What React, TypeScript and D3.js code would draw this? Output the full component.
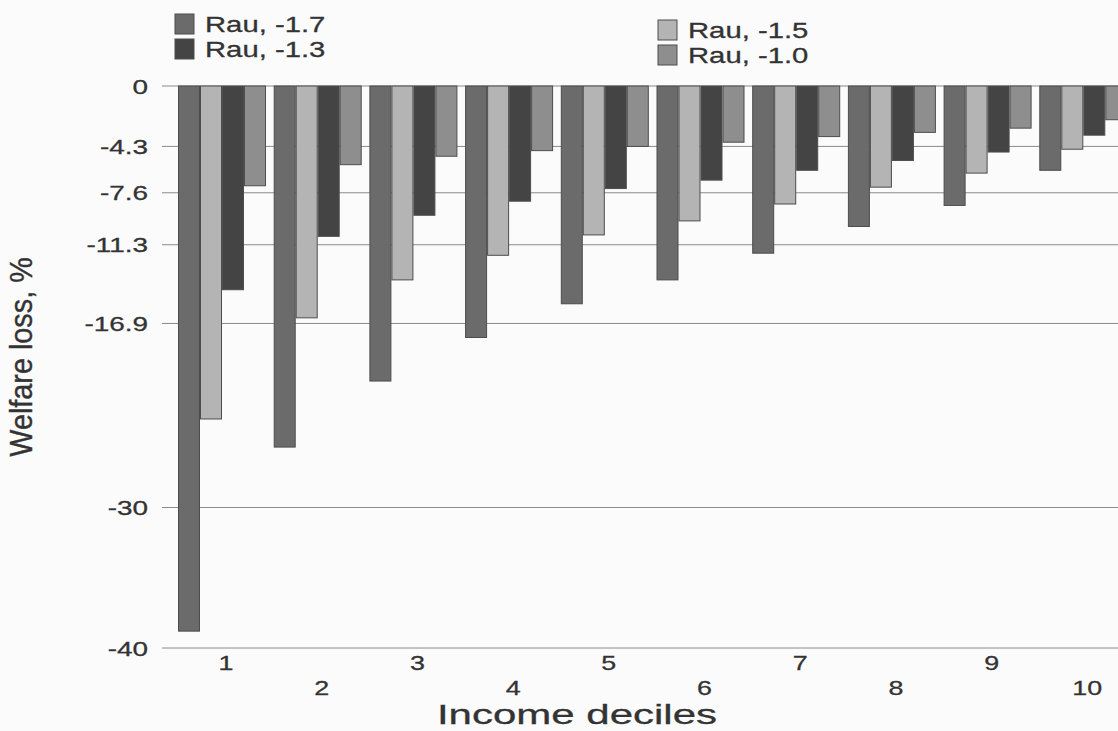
import React from "react";
import * as d3 from "d3";

const deciles = ["1", "2", "3", "4", "5", "6", "7", "8", "9", "10"];
const seriesNames = ["Rau, -1.7", "Rau, -1.5", "Rau, -1.3", "Rau, -1.0"];
const rau17 = [-38.8, -25.7, -21.0, -17.9, -15.5, -13.8, -11.9, -10.0, -8.5, -6.0];
const rau15 = [-23.7, -16.5, -13.8, -12.05, -10.6, -9.6, -8.4, -7.2, -6.2, -4.5];
const rau13 = [-14.5, -10.7, -9.2, -8.2, -7.3, -6.7, -6.0, -5.3, -4.7, -3.5];
const rau10 = [-7.1, -5.6, -5.0, -4.6, -4.3, -4.0, -3.6, -3.3, -3.0, -2.4];
const yTicks = [0, -4.3, -7.6, -11.3, -16.9, -30, -40];
const yTickLabels = ["0", "-4.3", "-7.6", "-11.3", "-16.9", "-30", "-40"];

const seriesValues = [rau17, rau15, rau13, rau10];
const colors = ["#6b6b6b", "#b4b4b4", "#444444", "#8e8e8e"];

const W = 1118;
const H = 731;
const FONT = "'Liberation Sans', Arial, sans-serif";
const TEXT = "#333333";

export default function App() {
  const y = d3.scaleLinear().domain([0, -40]).range([86, 648]);
  const step = 95.7;
  const gap = 7.7;
  const x0 = d3
    .scaleBand<string>()
    .domain(deciles)
    .range([178, 178 + step * deciles.length - gap])
    .paddingInner(gap / step)
    .paddingOuter(0);
  const x1 = d3
    .scaleBand<string>()
    .domain(seriesNames)
    .range([0, x0.bandwidth()])
    .padding(0);

  const gridX0 = 162;
  const legendCols = [
    { x: 175, tx: 205, items: [0, 2], y0: 14 },
    { x: 658, tx: 688, items: [1, 3], y0: 20 },
  ];

  return (
    <svg
      width={W}
      height={H}
      style={{ position: "absolute", left: 0, top: 0, fontFamily: FONT }}
    >
      <rect x={0} y={0} width={W} height={H} fill="#fbfbfb" />
      {yTicks.map((t, i) => (
        <line
          key={"g" + i}
          x1={gridX0}
          x2={W}
          y1={y(t)}
          y2={y(t)}
          stroke="#8a8a8a"
          strokeWidth={1}
        />
      ))}
      {yTicks.map((t, i) => (
        <text
          key={"yl" + i}
          transform={`translate(148,${y(t) + 7.5}) scale(1.33,1)`}
          textAnchor="end"
          fontSize={21}
          fill={TEXT}
          stroke={TEXT}
          strokeWidth={0.3}
        >
          {yTickLabels[i]}
        </text>
      ))}
      {deciles.map((d, gi) => (
        <g key={"grp" + d} transform={`translate(${x0(d)},0)`}>
          {seriesNames.map((s, si) => {
            const v = seriesValues[si][gi];
            return (
              <rect
                key={s}
                x={x1(s)! + 0.5}
                y={y(0)}
                width={x1.bandwidth() - 1}
                height={y(v) - y(0)}
                fill={colors[si]}
                stroke="#4d4d4d"
                strokeWidth={1}
              />
            );
          })}
        </g>
      ))}
      {deciles.map((d, i) => (
        <text
          key={"xl" + d}
          transform={`translate(${x0(d)! + x0.bandwidth() / 2 + 4},${i % 2 === 0 ? 670 : 695}) scale(1.28,1)`}
          textAnchor="middle"
          fontSize={21}
          fill={TEXT}
          stroke={TEXT}
          strokeWidth={0.3}
        >
          {d}
        </text>
      ))}
      <text
        transform="translate(577,724) scale(1.5,1)"
        textAnchor="middle"
        fontSize={28}
        fill={TEXT}
        stroke={TEXT}
        strokeWidth={0.3}
      >
        Income deciles
      </text>
      <text
        transform="translate(32,357) rotate(-90) scale(1.2,1.28)"
        textAnchor="middle"
        fontSize={24}
        fill={TEXT}
        stroke={TEXT}
        strokeWidth={0.3}
      >
        Welfare loss, %
      </text>
      {legendCols.map((col, ci) =>
        col.items.map((si, k) => (
          <g key={"lg" + ci + "-" + k}>
            <rect
              x={col.x}
              y={col.y0 + k * 25}
              width={19}
              height={20}
              fill={colors[si]}
              stroke="#4d4d4d"
              strokeWidth={1}
            />
            <text
              transform={`translate(${col.tx},${col.y0 + k * 25 + 18}) scale(1.33,1)`}
              fontSize={22}
              fill={TEXT}
              stroke={TEXT}
              strokeWidth={0.3}
            >
              {seriesNames[si]}
            </text>
          </g>
        ))
      )}
    </svg>
  );
}
